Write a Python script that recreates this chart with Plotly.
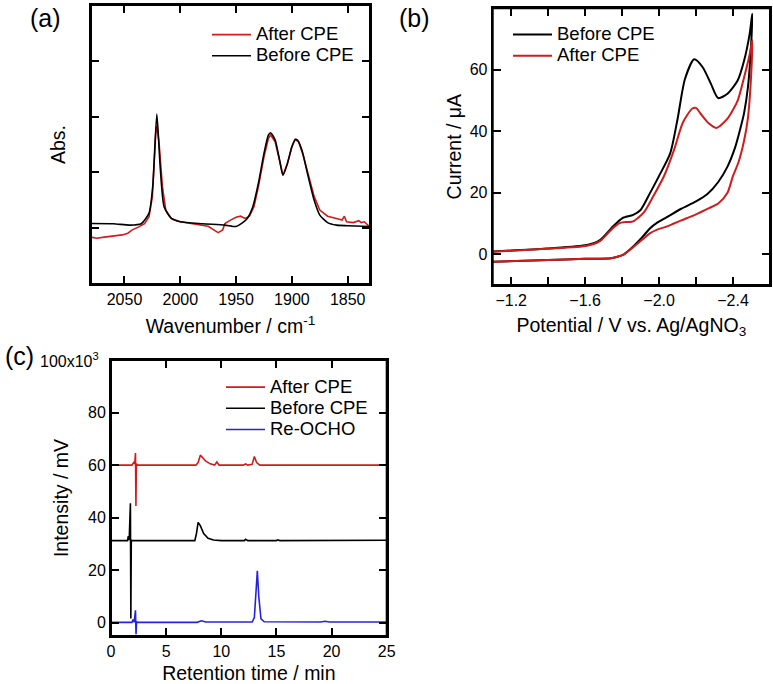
import plotly.graph_objects as go

# ---------------- (a) IR spectra ----------------
ir_before_wn = [2080, 2060, 2045, 2035, 2028, 2024.7, 2021, 2018, 2014.5, 2008, 2000, 1980, 1960,
                1950, 1945, 1940, 1935, 1930, 1925, 1921, 1919, 1915, 1911, 1908, 1904, 1900,
                1897, 1895, 1891, 1886, 1880, 1875, 1868, 1860, 1850, 1830]
ir_before_abs = [0.217, 0.216, 0.211, 0.216, 0.254, 0.349, 0.609, 0.42, 0.277, 0.235, 0.223, 0.216, 0.211,
                 0.206, 0.217, 0.235, 0.277, 0.361, 0.468, 0.534, 0.542, 0.516, 0.444, 0.39, 0.432, 0.492,
                 0.518, 0.516, 0.48, 0.396, 0.30, 0.247, 0.22, 0.211, 0.209, 0.206]

ir_after_wn = [2080, 2075, 2068, 2060, 2052, 2047, 2043, 2038, 2032, 2028, 2025, 2022, 2021, 2019,
               2016, 2013, 2008, 2000, 1990, 1980, 1975, 1970, 1966, 1962, 1960, 1955, 1950, 1946,
               1942, 1938, 1934, 1930, 1925, 1921, 1919, 1915, 1911, 1908, 1904, 1900, 1897, 1894,
               1890, 1885, 1880, 1875, 1868, 1860, 1855, 1853, 1851, 1845, 1840, 1838, 1835, 1832, 1830]
ir_after_abs = [0.168, 0.164, 0.168, 0.172, 0.176, 0.182, 0.194, 0.203, 0.216, 0.241, 0.313, 0.54, 0.567, 0.504,
                0.349, 0.265, 0.235, 0.223, 0.216, 0.211, 0.207, 0.194, 0.184, 0.194, 0.217, 0.229, 0.239, 0.243,
                0.235, 0.243, 0.277, 0.349, 0.456, 0.522, 0.534, 0.51, 0.438, 0.39, 0.432, 0.492, 0.518, 0.51,
                0.462, 0.384, 0.313, 0.265, 0.243, 0.235, 0.229, 0.243, 0.223, 0.22, 0.227, 0.22, 0.223, 0.211, 0.207]

# ---------------- (b) cyclic voltammograms ----------------
cv_before_E = [-1.10, -1.39, -1.61, -1.68, -1.75, -1.80, -1.86, -1.90, -1.95, -2.00, -2.06, -2.10, -2.14,
               -2.19, -2.235, -2.28, -2.32, -2.37, -2.425, -2.46, -2.49, -2.504,
               -2.495, -2.48, -2.46, -2.44, -2.41, -2.37, -2.32, -2.26, -2.20, -2.12, -2.04, -1.99, -1.95, -1.91,
               -1.86, -1.81, -1.77, -1.74, -1.60, -1.40, -1.10]
cv_before_I = [0.9, 1.9, 3.0, 4.6, 9.0, 11.7, 12.8, 14.4, 19.8, 25.5, 32.8, 44.0, 57.0,
               63.4, 60.9, 55.5, 50.8, 52.2, 56.5, 63.0, 71.7, 78.2,
               65.0, 54.0, 46.0, 41.0, 34.5, 28.5, 23.5, 19.5, 17.2, 14.8, 12.0, 10.3, 8.4, 5.6,
               2.5, 0.0, -0.9, -1.3, -1.5, -1.9, -2.4]

cv_after_E = [-1.10, -1.39, -1.61, -1.68, -1.75, -1.79, -1.83, -1.86, -1.92, -1.97, -2.025, -2.08, -2.13,
              -2.18, -2.20, -2.225, -2.27, -2.31, -2.37, -2.425, -2.46, -2.49, -2.504,
              -2.495, -2.48, -2.46, -2.43, -2.40, -2.37, -2.32, -2.27, -2.20, -2.12, -2.08, -2.04, -1.99, -1.95, -1.91,
              -1.86, -1.81, -1.77, -1.74, -1.60, -1.40, -1.10]
cv_after_I = [0.8, 1.8, 2.8, 4.3, 8.5, 10.2, 10.5, 10.7, 13.8, 19.0, 25.2, 33.8, 43.0,
              47.4, 47.6, 45.7, 42.5, 41.1, 44.1, 50.0, 57.6, 65.0, 69.7,
              55.0, 44.0, 37.0, 30.0, 25.5, 20.0, 16.5, 15.0, 13.0, 11.0, 10.0, 9.0, 8.0, 6.8, 4.8,
              2.3, 0.0, -0.9, -1.3, -1.5, -1.9, -2.4]

# ---------------- (c) chromatograms (x10^3 mV) ----------------
lc_after_t = [0, 1.9, 2.05, 2.15, 2.22, 2.26, 2.3, 2.4, 7.7, 7.9, 8.1, 8.3, 8.6, 9.0, 9.4, 9.6, 9.8,
              10.2, 12.0, 12.2, 12.4, 12.8, 13.0, 13.2, 13.5, 25]
lc_after_v = [60, 60, 61, 60.5, 64.6, 44.5, 60.5, 60, 60, 61, 63.8, 63, 61.5, 60.5, 60, 61.2, 60,
              60, 60, 60.5, 60, 60.3, 63.3, 61, 60, 60]

lc_before_t = [0, 1.5, 1.57, 1.65, 1.76, 1.8, 1.84, 1.9, 7.6, 7.75, 7.9, 8.1, 8.4, 8.8, 9.3, 10,
               12.1, 12.2, 12.4, 15.0, 15.1, 15.3, 25]
lc_before_v = [31.3, 31.3, 33, 31.5, 45.5, 1.7, 31.5, 31.3, 31.3, 34, 38.2, 37, 34, 32.2, 31.5, 31.3,
               31.3, 31.8, 31.3, 31.3, 31.6, 31.3, 31.4]

lc_ref_t = [0, 1.9, 2.0, 2.1, 2.22, 2.27, 2.32, 2.4, 7.8, 8.2, 8.6, 12.8, 13.0, 13.15, 13.27, 13.4,
            13.6, 13.9, 19.0, 19.4, 19.8, 25]
lc_ref_v = [0.2, 0.2, 1.3, 0.3, 4.8, -4.3, 0.5, 0.2, 0.2, 0.8, 0.3, 0.3, 2, 12, 19.8, 10,
            1.5, 0.4, 0.3, 0.6, 0.3, 0.3]

RED = "#d01c1c"
BLACK = "#000000"
BLUE = "#2424dc"
FONT = "Liberation Sans, Arial, sans-serif"
W, H = 773, 684
LEG = '<span style="font-size:18.5px">%s</span>'

fig = go.Figure()

fig.add_trace(go.Scatter(x=ir_after_wn, y=ir_after_abs, mode="lines", name=LEG % "After CPE",
                         line=dict(color=RED, width=1.6), xaxis="x", yaxis="y", legend="legend"))
fig.add_trace(go.Scatter(x=ir_before_wn, y=ir_before_abs, mode="lines", name=LEG % "Before CPE",
                         line=dict(color=BLACK, width=1.6, shape="spline", smoothing=0.6),
                         xaxis="x", yaxis="y", legend="legend"))

fig.add_trace(go.Scatter(x=cv_before_E, y=cv_before_I, mode="lines", name=LEG % "Before CPE",
                         line=dict(color=BLACK, width=2, shape="spline", smoothing=0.7),
                         xaxis="x2", yaxis="y2", legend="legend2"))
fig.add_trace(go.Scatter(x=cv_after_E, y=cv_after_I, mode="lines", name=LEG % "After CPE",
                         line=dict(color=RED, width=2, shape="spline", smoothing=0.7),
                         xaxis="x2", yaxis="y2", legend="legend2"))

fig.add_trace(go.Scatter(x=lc_after_t, y=lc_after_v, mode="lines", name=LEG % "After CPE",
                         line=dict(color=RED, width=1.6), xaxis="x3", yaxis="y3", legend="legend3"))
fig.add_trace(go.Scatter(x=lc_before_t, y=lc_before_v, mode="lines", name=LEG % "Before CPE",
                         line=dict(color=BLACK, width=1.6), xaxis="x3", yaxis="y3", legend="legend3"))
fig.add_trace(go.Scatter(x=lc_ref_t, y=lc_ref_v, mode="lines", name=LEG % "Re-OCHO",
                         line=dict(color=BLUE, width=1.6), xaxis="x3", yaxis="y3", legend="legend3"))

def px_x(p):
    return p / W

def px_y(p):
    return 1 - p / H

axis_common = dict(showline=True, linecolor="black", linewidth=2, mirror="ticks", ticks="inside",
                   ticklen=8, tickwidth=2, tickcolor="black", showgrid=False, zeroline=False,
                   layer="above traces", automargin=False,
                   tickfont=dict(size=16, color="black", family=FONT),
                   title_font=dict(size=19.5, color="black", family=FONT))

legend_common = dict(xanchor="left", yanchor="top", bgcolor="rgba(0,0,0,0)",
                     font=dict(size=14, family=FONT, color="black"), itemwidth=39, tracegroupgap=0)

fig.update_layout(
    width=W, height=H,
    margin=dict(l=0, r=0, t=0, b=0),
    paper_bgcolor="white", plot_bgcolor="white",
    font=dict(family=FONT, color="black", size=16),
    xaxis=dict(axis_common, domain=[px_x(91), px_x(370)], range=[2080, 1830],
               tickvals=[2050, 2000, 1950, 1900, 1850], anchor="y",
               title=dict(text="Wavenumber / cm<sup>-1</sup>", standoff=12)),
    yaxis=dict(axis_common, domain=[px_y(284), px_y(5)], range=[0, 1],
               tickvals=[0.2, 0.4, 0.6, 0.8], showticklabels=False, anchor="x",
               title=dict(text="Abs.", standoff=18)),
    xaxis2=dict(axis_common, domain=[px_x(492.7), px_x(770)], range=[-1.1, -2.6],
                tick0=-1.2, dtick=0.4, tickformat=".1f", anchor="y2",
                minor=dict(dtick=0.2, ticks="inside", ticklen=8, tickwidth=2, tickcolor="black"),
                title=dict(text="Potential / V vs. Ag/AgNO<sub>3</sub>", standoff=10)),
    yaxis2=dict(axis_common, domain=[px_y(285), px_y(8.3)], range=[-10, 80],
                tickvals=[0, 20, 40, 60, 80], anchor="x2",
                title=dict(text="Current / μA", standoff=3)),
    xaxis3=dict(axis_common, domain=[px_x(111), px_x(386.7)], range=[0, 25],
                tickvals=[0, 5, 10, 15, 20, 25], anchor="y3",
                title=dict(text="Retention time / min", standoff=13)),
    yaxis3=dict(axis_common, domain=[px_y(636), px_y(360)], range=[-5, 100],
                tickvals=[0, 20, 40, 60, 80], anchor="x3",
                title=dict(text="Intensity / mV", standoff=14)),
    legend=dict(legend_common, x=px_x(207), y=px_y(19)),
    legend2=dict(legend_common, x=px_x(508), y=px_y(19)),
    legend3=dict(legend_common, x=px_x(221), y=px_y(371.5)),
    showlegend=True,
)

# plot frames (boxes around each panel)
for xr, yr in [("x domain", "y domain"), ("x2 domain", "y2 domain"), ("x3 domain", "y3 domain")]:
    fig.add_shape(type="rect", xref=xr, yref=yr, x0=0, x1=1, y0=0, y1=1,
                  line=dict(color="black", width=2), fillcolor="rgba(0,0,0,0)", layer="above")

fig.add_annotation(text="100x10<sup>3</sup>", xref="paper", yref="y3", x=px_x(101), y=100,
                   xanchor="right", yanchor="middle", showarrow=False,
                   font=dict(size=16, family=FONT, color="black"))
for label, cx, cy in [("(a)", 45, 18), ("(b)", 414, 18), ("(c)", 19, 356)]:
    fig.add_annotation(text=label, xref="paper", yref="paper", x=px_x(cx), y=px_y(cy),
                       xanchor="center", yanchor="middle", showarrow=False,
                       font=dict(size=25, family=FONT, color="black"))

fig.write_html("out.html", config={"displayModeBar": False},
               post_script="document.body.style.margin='0';document.body.style.padding='0';")
